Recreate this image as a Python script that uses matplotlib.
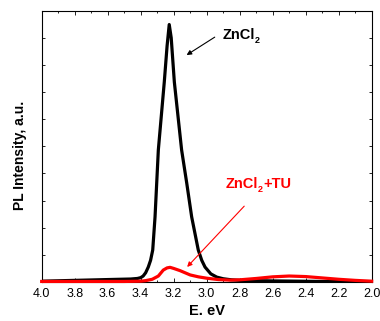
import matplotlib
matplotlib.use("Agg")
import matplotlib.pyplot as plt
from matplotlib.ticker import MultipleLocator, NullFormatter

plt.rcParams['font.family'] = ['Liberation Sans', 'DejaVu Sans']

# Energy (eV) and PL intensity (a.u.) for ZnCl2
E_zncl2 = [4.0, 3.8, 3.6, 3.46, 3.42, 3.40, 3.385, 3.37, 3.354, 3.34, 3.327,
           3.313, 3.293, 3.257, 3.240, 3.227, 3.215, 3.196, 3.152, 3.135,
           3.121, 3.091, 3.051, 3.030, 3.010, 2.975, 2.939, 2.90, 2.85, 2.8,
           2.6, 2.3, 2.0]
I_zncl2 = [0.03, 0.06, 0.09, 0.11, 0.13, 0.16, 0.22, 0.34, 0.55, 0.8, 1.18,
           2.4, 4.87, 7.37, 8.7, 9.49, 9.0, 7.37, 4.87, 4.2,
           3.65, 2.4, 1.18, 0.8, 0.55, 0.3, 0.18, 0.12, 0.08, 0.06,
           0.04, 0.02, 0.01]

# Energy (eV) and PL intensity for ZnCl2+TU
E_tu = [4.0, 3.5, 3.40, 3.37, 3.33, 3.293, 3.263, 3.24, 3.222, 3.20, 3.162,
        3.10, 3.05, 3.0, 2.93, 2.86, 2.8, 2.7, 2.6, 2.5, 2.4, 2.3, 2.2, 2.1, 2.0]
I_tu = [0.02, 0.02, 0.03, 0.05, 0.1, 0.22, 0.44, 0.52, 0.54, 0.5, 0.42,
        0.26, 0.19, 0.14, 0.09, 0.07, 0.08, 0.13, 0.19, 0.22, 0.2, 0.15, 0.1,
        0.06, 0.03]

x_ticks = [4.0, 3.8, 3.6, 3.4, 3.2, 3.0, 2.8, 2.6, 2.4, 2.2, 2.0]

fig = plt.figure(figsize=(3.8, 3.21), dpi=100)
ax = fig.add_axes([0.1097, 0.1215, 0.8684, 0.8452])

ax.plot(E_zncl2, I_zncl2, color='black', lw=2.3, zorder=3,
        solid_joinstyle='round')
ax.plot(E_tu, I_tu, color='#ff0000', lw=2.3, zorder=4, clip_on=False,
        solid_joinstyle='round')

ax.set_xlim(4.0, 2.0)
ax.set_ylim(0, 10)
ax.set_xticks(x_ticks)
ax.set_xticklabels([f"{v:.1f}" for v in x_ticks])
ax.xaxis.set_minor_locator(MultipleLocator(0.1))
ax.yaxis.set_major_locator(MultipleLocator(1))
ax.yaxis.set_major_formatter(NullFormatter())
ax.tick_params(axis='both', which='both', direction='in', top=True, right=True,
               width=0.6, labelsize=9)
ax.tick_params(axis='x', which='major', length=3, pad=4)
ax.tick_params(axis='x', which='minor', length=1.5)
ax.tick_params(axis='y', which='major', length=2.5)
for s in ax.spines.values():
    s.set_linewidth(0.8)

ax.set_xlabel('E. eV', fontsize=10.5, fontweight='bold', labelpad=3)
ax.set_ylabel('PL Intensity, a.u.', fontsize=10, fontweight='bold')
ax.yaxis.set_label_coords(-0.045, 0.468)


def chem_label(x, y, parts, color):
    """parts: list of (text, is_subscript)"""
    main = ax.text(x, y, parts[0][0], fontsize=10.5, fontweight='bold',
                   color=color, ha='left', va='baseline')
    prev = main
    for txt, sub in parts[1:]:
        if sub:
            prev = ax.annotate(txt, xy=(1, 0), xycoords=(prev, main),
                               xytext=(0.3, -0.3), textcoords='offset points',
                               fontsize=6.5, fontweight='bold', color=color,
                               ha='left', va='baseline')
        else:
            prev = ax.annotate(txt, xy=(1, 0), xycoords=(prev, main),
                               xytext=(0.3, 0), textcoords='offset points',
                               fontsize=10.5, fontweight='bold', color=color,
                               ha='left', va='bottom')
    return prev


ax.annotate('', xy=(3.136, 8.31), xytext=(2.937, 9.08),
            arrowprops=dict(arrowstyle='-|>', color='black', lw=0.8,
                            mutation_scale=7))
chem_label(2.906, 8.95, [('ZnCl', False), ('2', True)], 'black')

ax.annotate('', xy=(3.13, 0.48), xytext=(2.761, 2.87),
            arrowprops=dict(arrowstyle='-|>', color='#ff0000', lw=0.8,
                            mutation_scale=7))
chem_label(2.888, 3.45, [('ZnCl', False), ('2', True), ('+TU', False)],
           '#ff0000')

fig.savefig('out.png', dpi=100)
